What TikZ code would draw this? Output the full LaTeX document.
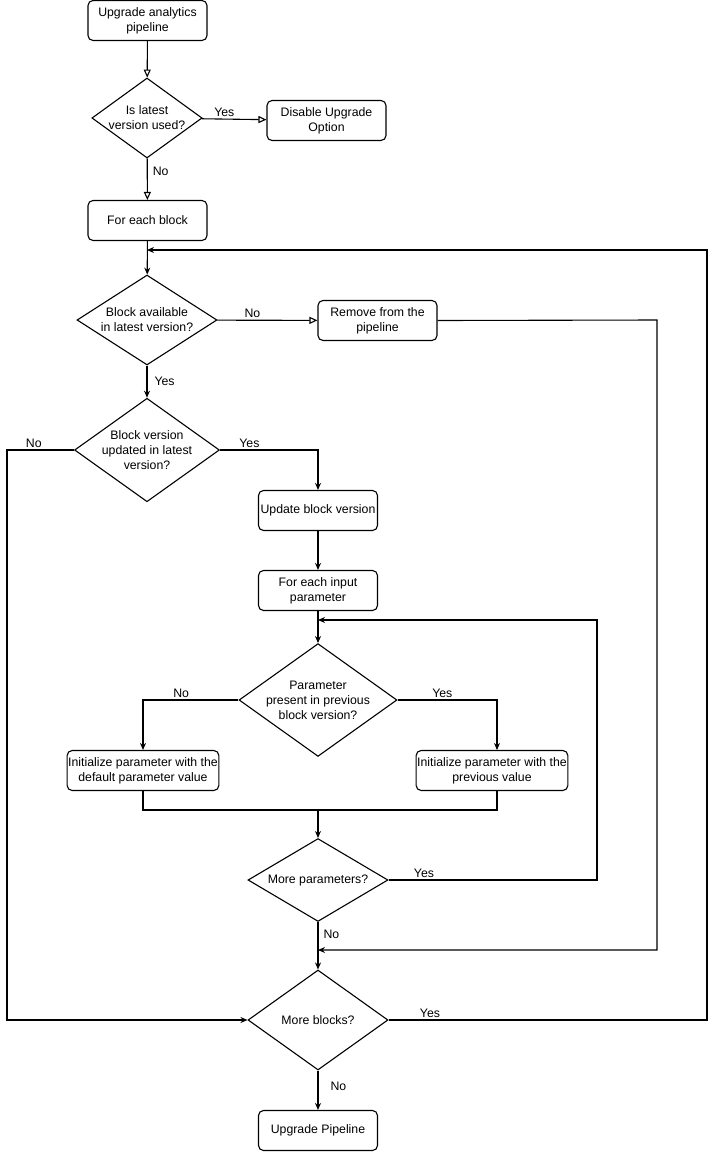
\documentclass[tikz,border=0pt]{standalone}
\usepackage{fontspec}
\setmainfont{Liberation Sans}
\usetikzlibrary{arrows.meta,shapes.geometric}
\begin{document}
\begin{tikzpicture}[x=1pt,y=-1pt,font=\fontsize{12.3}{15}\selectfont,line width=1.1pt,
 box/.style={draw,rounded corners=5pt,minimum width=119pt,minimum height=40pt,align=center,inner sep=1pt},
 dia/.style={draw,diamond,aspect=1.4,align=center,inner sep=0pt},
 oa/.style={-{Triangle[open,length=8pt,width=7pt]}},
 fa/.style={-{Stealth[length=7pt,width=6pt]}},
 lbl/.style={inner sep=2pt}]
\useasboundingbox (0,0) rectangle (717,1152);
\node[box] (start) at (147.5,20.5) {Upgrade analytics\\pipeline};
\node[dia,minimum width=100pt,minimum height=80pt] (d1) at (147,118) {Is latest\\version used?};
\node[box] (dis) at (326.5,120.5) {Disable Upgrade\\Option};
\node[box] (feb) at (147.5,220.5) {For each block};
\node[dia,minimum width=140pt,minimum height=80pt] (d2) at (147,320) {Block available\\in latest version?};
\node[box] (rem) at (377.5,320.5) {Remove from the\\pipeline};
\node[dia,minimum width=140pt,minimum height=100pt] (d3) at (147,450) {Block version\\updated in latest\\version?};
\node[box] (upd) at (318,510.5) {Update block version};
\node[box] (fei) at (318,590.5) {For each input\\parameter};
\node[dia,minimum width=140pt,minimum height=100pt] (d4) at (318,700) {Parameter\\present in previous\\block version?};
\node[box,minimum width=149pt] (pl) at (143,770.5) {Initialize parameter with the\\default parameter value};
\node[box,minimum width=149pt] (pr) at (492,770.5) {Initialize parameter with the\\previous value};
\node[dia,minimum width=140pt,minimum height=80pt] (d5) at (318,880) {More parameters?};
\node[dia,minimum width=140pt,minimum height=100pt] (d6) at (318,1020) {More blocks?};
\node[box] (up) at (318,1130.5) {Upgrade Pipeline};
\coordinate (m) at (318,810);
\draw[oa] (start) -- (d1);
\draw[oa] (d1) -- node[lbl,above,pos=0.35]{Yes} (dis);
\draw[oa] (d1) -- node[lbl,right,pos=0.3,xshift=3pt]{No} (feb);
\draw[fa] (feb) -- (d2);
\draw[oa] (d2) -- node[lbl,above,pos=0.35]{No} (rem);
\draw[fa] (d2) -- node[lbl,right,pos=0.5,xshift=5pt]{Yes} (d3);
\draw[fa] (d3.east) -- node[lbl,above,pos=0.3]{Yes} (318,450) -- (upd);
\draw[fa] (d3.west) -- node[lbl,above,pos=0.6]{No} (7,450) -- (7,1020) -- (d6.west);
\draw[fa] (upd) -- (fei);
\draw[fa] (fei) -- (d4);
\draw[fa] (d4.west) -- node[lbl,above,pos=0.6]{No} (143,700) -- (pl.north);
\draw[fa] (d4.east) -- node[lbl,above,pos=0.45]{Yes} (497,700) -- (497,750);
\draw (pl.south) -- (143,810) -- (497,810) -- (497,790.5);
\draw[fa] (m) -- (d5);
\draw[fa] (d5.east) -- node[lbl,above,pos=0.17]{Yes} (597,880) -- (597,620) -- (318,620);
\draw[fa] (d5) -- node[lbl,right,pos=0.25,xshift=3pt]{No} (d6);
\draw[fa] (rem.east) -- (657,320) -- (657,950) -- (318,950);
\draw[fa] (d6.east) -- node[lbl,above,pos=0.13]{Yes} (707,1020) -- (707,250) -- (147,250);
\draw[fa] (d6) -- node[lbl,right,pos=0.4,xshift=10pt]{No} (up);
\end{tikzpicture}
\end{document}
